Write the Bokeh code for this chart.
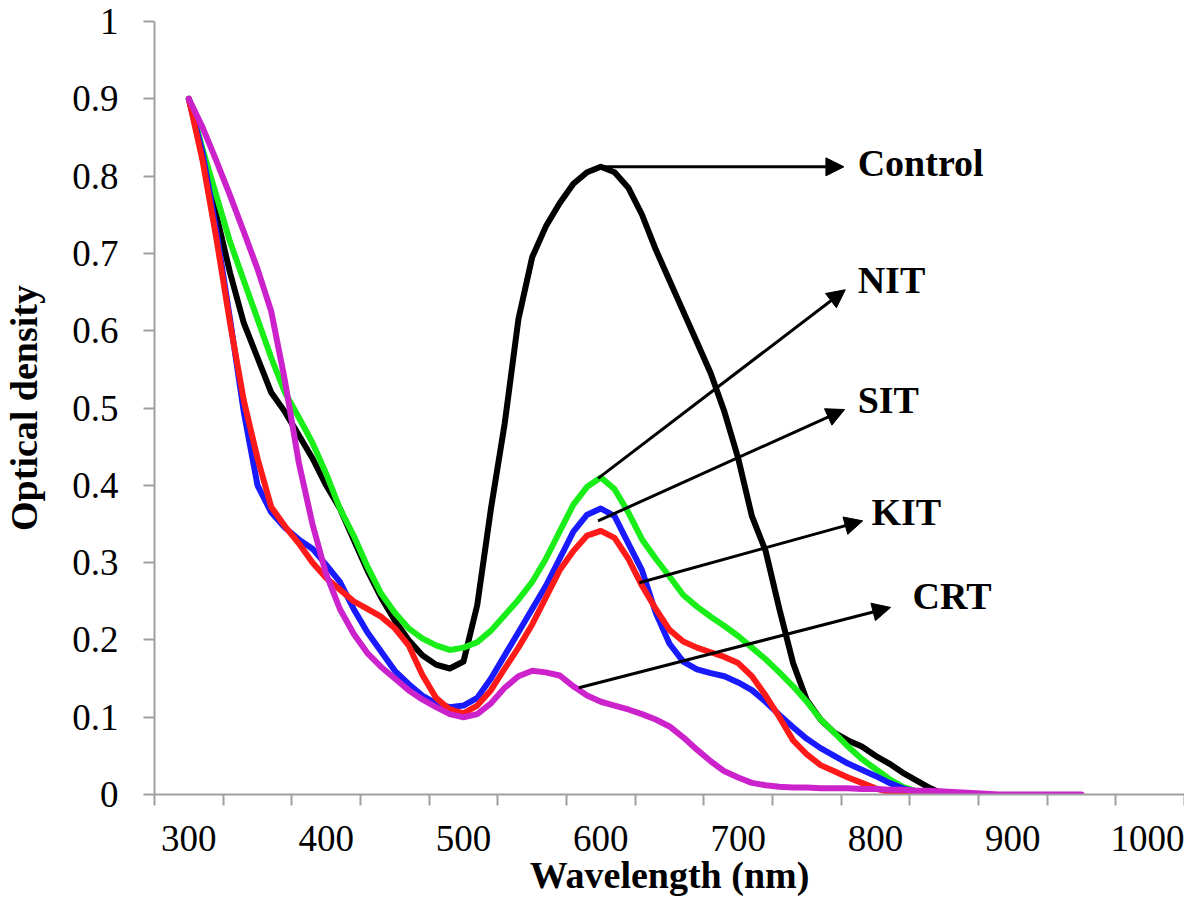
from bokeh.plotting import figure
from bokeh.models import (FixedTicker, CustomJSTickFormatter, Arrow, NormalHead,
                          Label, Range1d)
from bokeh.embed import file_html
from bokeh.resources import INLINE

# ---------------- data ----------------
wavelength = list(range(300, 860, 10))          # 300 .. 850 nm
wavelength_crt = list(range(300, 960, 10))      # 300 .. 950 nm

control = [0.90, 0.83, 0.75, 0.675, 0.61, 0.565, 0.52, 0.495, 0.465, 0.435,
           0.40, 0.37, 0.33, 0.29, 0.255, 0.225, 0.20, 0.18, 0.168, 0.163,
           0.172, 0.245, 0.37, 0.48, 0.615, 0.695, 0.735, 0.765, 0.79, 0.805,
           0.812, 0.805, 0.785, 0.75, 0.705, 0.665, 0.625, 0.585, 0.545, 0.495,
           0.435, 0.36, 0.315, 0.24, 0.17, 0.122, 0.097, 0.08, 0.07, 0.062,
           0.05, 0.04, 0.028, 0.018, 0.008, 0.0]

nit = [0.90, 0.835, 0.775, 0.715, 0.665, 0.615, 0.565, 0.52, 0.488, 0.455,
       0.415, 0.37, 0.335, 0.295, 0.26, 0.235, 0.215, 0.202, 0.193, 0.187,
       0.19, 0.197, 0.212, 0.232, 0.252, 0.275, 0.305, 0.34, 0.375, 0.398,
       0.41, 0.395, 0.365, 0.33, 0.305, 0.282, 0.258, 0.243, 0.23, 0.218,
       0.205, 0.19, 0.175, 0.158, 0.14, 0.12, 0.097, 0.08, 0.062, 0.046,
       0.033, 0.02, 0.01, 0.004, 0.0, 0.0]

sit = [0.90, 0.83, 0.73, 0.615, 0.495, 0.40, 0.365, 0.345, 0.33, 0.318,
       0.297, 0.275, 0.24, 0.21, 0.185, 0.16, 0.143, 0.128, 0.118, 0.113,
       0.115, 0.125, 0.15, 0.18, 0.21, 0.24, 0.27, 0.305, 0.34, 0.362,
       0.37, 0.36, 0.325, 0.29, 0.235, 0.195, 0.172, 0.162, 0.157, 0.153,
       0.145, 0.135, 0.12, 0.103, 0.087, 0.072, 0.06, 0.05, 0.04, 0.032,
       0.024, 0.015, 0.008, 0.003, 0.0, 0.0]

kit = [0.90, 0.82, 0.72, 0.61, 0.51, 0.435, 0.372, 0.347, 0.325, 0.30,
       0.28, 0.265, 0.25, 0.24, 0.23, 0.215, 0.193, 0.155, 0.125, 0.11,
       0.105, 0.115, 0.135, 0.163, 0.19, 0.22, 0.255, 0.29, 0.315, 0.335,
       0.341, 0.332, 0.305, 0.27, 0.24, 0.213, 0.198, 0.19, 0.184, 0.178,
       0.17, 0.153, 0.128, 0.1, 0.07, 0.052, 0.038, 0.03, 0.022, 0.015,
       0.008, 0.003, 0.0, 0.0, 0.0, 0.0]

crt = [0.90, 0.863, 0.82, 0.775, 0.728, 0.68, 0.625, 0.535, 0.43, 0.35,
       0.285, 0.24, 0.208, 0.183, 0.165, 0.15, 0.135, 0.123, 0.113, 0.104,
       0.10, 0.104, 0.118, 0.138, 0.153, 0.16, 0.158, 0.154, 0.14, 0.128,
       0.12, 0.115, 0.11, 0.104, 0.097, 0.088, 0.074, 0.058, 0.043, 0.03,
       0.022, 0.015, 0.012, 0.01, 0.009, 0.009, 0.008, 0.008, 0.008, 0.007,
       0.007, 0.006, 0.006, 0.005, 0.005, 0.004, 0.003, 0.002, 0.001, 0.0,
       0.0, 0.0, 0.0, 0.0, 0.0, 0.0]

series_names = ["Control", "NIT", "SIT", "KIT", "CRT"]
x_tick_labels = [300, 400, 500, 600, 700, 800, 900, 1000]
y_ticks = [0, 0.1, 0.2, 0.3, 0.4, 0.5, 0.6, 0.7, 0.8, 0.9, 1.0]
x_title = "Wavelength (nm)"
y_title = "Optical density"

# ---------------- styling / layout ----------------
SERIF = "Liberation Serif"
AXIS_GREY = "#a0a0a0"
colors = {"Control": "#000000", "NIT": "#19ee19", "SIT": "#1a1aff",
          "KIT": "#ff1a1a", "CRT": "#cc22cc"}

p = figure(width=1184, height=898,
           x_range=Range1d(275, 1025), y_range=Range1d(0, 1),
           output_backend="svg", toolbar_location=None,
           min_border_left=145, min_border_right=0,
           min_border_top=21, min_border_bottom=104)
p.outline_line_color = None
p.grid.visible = False
p.background_fill_color = "white"
p.border_fill_color = "white"

# x axis: category-style slots 50 nm wide, labels every other slot
slot_edges = [275 + 50 * k for k in range(16)]
p.xaxis.ticker = FixedTicker(ticks=x_tick_labels, minor_ticks=slot_edges)
p.xaxis.major_tick_out = 0
p.xaxis.major_tick_in = 0
p.xaxis.minor_tick_out = 11
p.xaxis.minor_tick_in = 0
p.xaxis.minor_tick_line_color = AXIS_GREY
p.xaxis.minor_tick_line_width = 2
p.xaxis.major_label_standoff = 20
p.xaxis.axis_label = x_title
p.xaxis.axis_label_standoff = 0

# y axis
p.yaxis.ticker = FixedTicker(ticks=y_ticks, minor_ticks=[])
p.yaxis.formatter = CustomJSTickFormatter(
    code="return (Math.round(tick * 10) / 10).toString();")
p.yaxis.major_tick_out = 11
p.yaxis.major_tick_in = 0
p.yaxis.minor_tick_out = 0
p.yaxis.minor_tick_in = 0
p.yaxis.major_tick_line_color = AXIS_GREY
p.yaxis.major_tick_line_width = 2
p.yaxis.major_label_standoff = 25
p.yaxis.axis_label = y_title
p.yaxis.axis_label_standoff = 24

for ax in (p.xaxis, p.yaxis):
    ax.axis_line_color = AXIS_GREY
    ax.axis_line_width = 2
    ax.major_label_text_font = SERIF
    ax.major_label_text_font_size = "37px"
    ax.major_label_text_color = "black"
    ax.axis_label_text_font = SERIF
    ax.axis_label_text_font_size = "38px"
    ax.axis_label_text_font_style = "bold"
    ax.axis_label_text_color = "black"

# ---------------- curves ----------------
for name, xs, ys in [("Control", wavelength, control),
                     ("NIT", wavelength, nit),
                     ("SIT", wavelength, sit),
                     ("KIT", wavelength, kit),
                     ("CRT", wavelength_crt, crt)]:
    p.line(xs, ys, line_color=colors[name], line_width=6,
           line_join="round", line_cap="round")

# ---------------- annotation arrows and labels ----------------
arrow_start_x = [600, 598, 598, 628, 584]
arrow_start_y = [0.812, 0.409, 0.354, 0.274, 0.138]
arrow_end_x = [777, 778, 777.5, 790.7, 811]
arrow_end_y = [0.812, 0.653, 0.498, 0.354, 0.242]
label_x = [787, 787, 787, 797, 827]
label_y = [0.817, 0.665, 0.510, 0.366, 0.257]

for i, name in enumerate(series_names):
    p.add_layout(Arrow(end=NormalHead(size=18, fill_color="black",
                                      line_color="black", line_width=1),
                       x_start=arrow_start_x[i], y_start=arrow_start_y[i],
                       x_end=arrow_end_x[i], y_end=arrow_end_y[i],
                       line_color="black", line_width=3))
    p.add_layout(Label(x=label_x[i], y=label_y[i], text=name,
                       text_font=SERIF, text_font_style="bold",
                       text_font_size="38px", text_color="black",
                       text_align="left", text_baseline="middle"))

open("out.html", "w").write(file_html(p, INLINE))
